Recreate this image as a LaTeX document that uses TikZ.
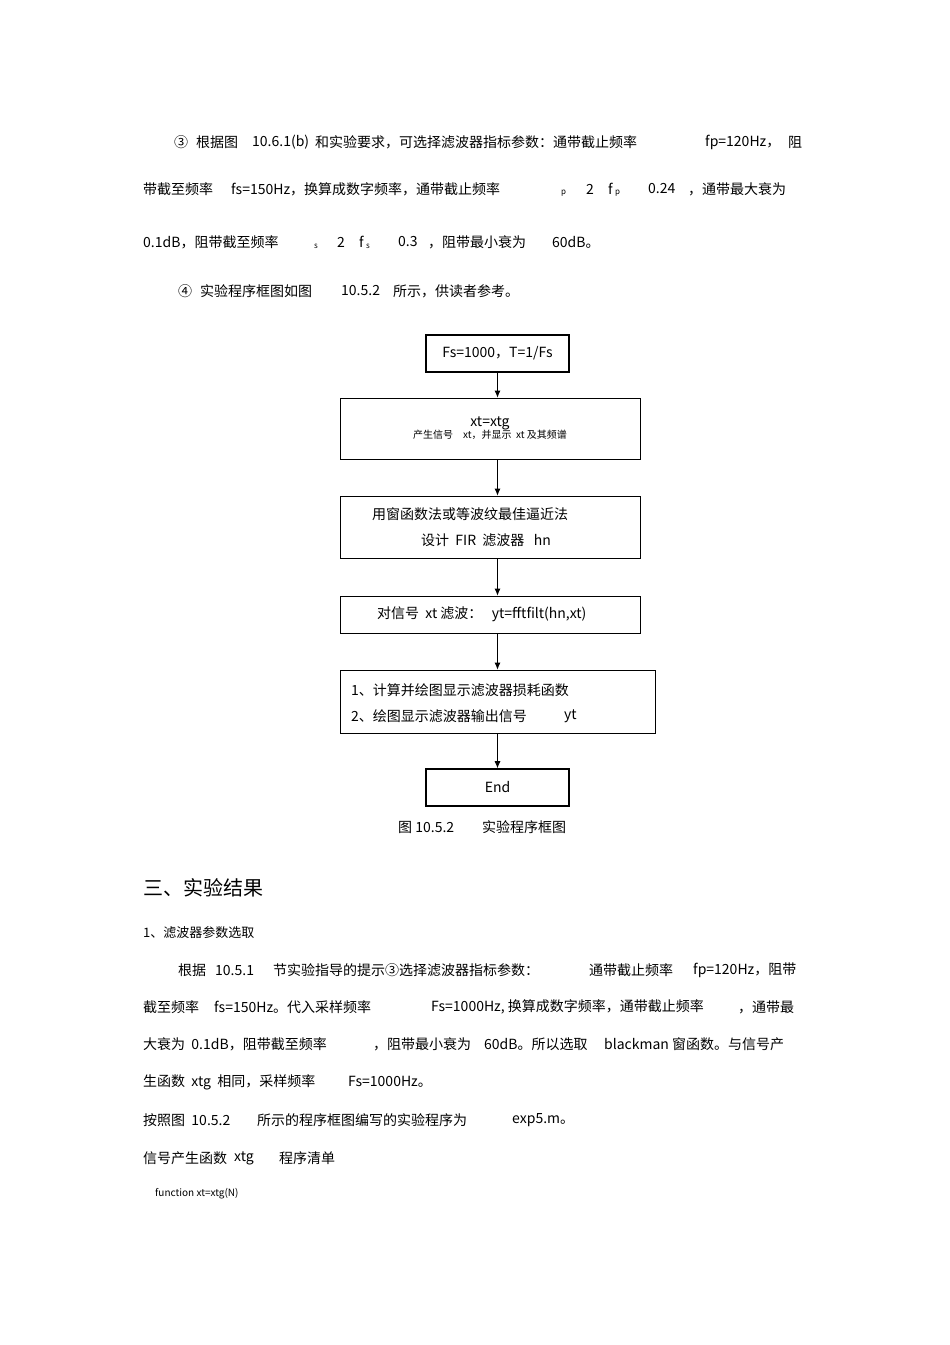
\documentclass[tikz,border=0pt]{standalone}
\usepackage{fontspec}
\setmainfont{Noto Sans CJK SC}
\usetikzlibrary{arrows.meta}
\begin{document}
\begin{tikzpicture}[x=1pt,y=-1pt,
 t/.style={anchor=west,inner sep=0pt,font=\fontsize{14}{16}\selectfont},
 ts/.style={anchor=west,inner sep=0pt,font=\fontsize{8}{9}\selectfont},
 box/.style={draw,line width=0.8pt,inner sep=0pt},
 tbox/.style={draw,line width=1.6pt,inner sep=0pt},
 arr/.style={-{Latex[length=7pt,width=6pt]},line width=0.8pt}]
\useasboundingbox (0,0) rectangle (950,1345);
% paragraph 3
\node[t] (a1) at (174,142) {③};
\node[t] (a2) at (196,142) {根据图};
\node[t] (a3) at (252,142) {10.6.1(b)};
\node[t] (a4) at (315,142) {和实验要求，可选择滤波器指标参数：通带截止频率};
\node[t] (a5) at (705,142) {fp=120Hz，};
\node[t] (a6) at (788,142) {阻};
\node[t] (b1) at (143,189) {带截至频率};
\node[t] (b2) at (231,189) {fs=150Hz，换算成数字频率，通带截止频率};
\node[ts] (b3) at (561,193) {p};
\node[t] (b4) at (586,189) {2};
\node[t] (b5) at (608,189) {f};
\node[ts] (b6) at (615,193) {p};
\node[t] (b7) at (648,189) {0.24};
\node[t] (b8) at (688,189) {，通带最大衰为};
\node[t] (c1) at (143,242) {0.1dB，阻带截至频率};
\node[ts] (c2) at (314,246) {s};
\node[t] (c3) at (337,242) {2};
\node[t] (c4) at (359,242) {f};
\node[ts] (c5) at (366,246) {s};
\node[t] (c6) at (398,242) {0.3};
\node[t] (c7) at (428,242) {，阻带最小衰为};
\node[t] (c8) at (552,242) {60dB。};
\node[t] (d1) at (178,291) {④};
\node[t] (d2) at (200,291) {实验程序框图如图};
\node[t] (d3) at (341,291) {10.5.2};
\node[t] (d4) at (393,291) {所示，供读者参考。};
% flowchart
\node[tbox,minimum width=143pt,minimum height=37pt] (n1) at (497.5,353.5) {\fontsize{14}{16}\selectfont Fs=1000，T=1/Fs};
\node[box,minimum width=300pt,minimum height=61pt,align=center] (n2) at (490,428.5) {\fontsize{14}{26}\selectfont xt=xtg\\ 产生信号\quad xt，并显示\ \ xt 及其频谱};
\node[box,minimum width=300pt,minimum height=62pt] (n3) at (490,527) {};
\node[t] (n3a) at (372,514) {用窗函数法或等波纹最佳逼近法};
\node[t] (n3b) at (421,540) {设计\ \ FIR\ \ 滤波器\ \ \ hn};
\node[box,minimum width=300pt,minimum height=37pt] (n4) at (490,614.5) {};
\node[t] (n4a) at (377,614) {对信号\ \ xt 滤波：\ \ \ yt=fftfilt(hn,xt)};
\node[box,minimum width=315pt,minimum height=63pt] (n5) at (497.5,701.5) {};
\node[t] (n5a) at (351,690) {1、计算并绘图显示滤波器损耗函数};
\node[t] (n5b) at (351,716) {2、绘图显示滤波器输出信号};
\node[t] (n5c) at (564,716) {yt};
\node[tbox,minimum width=143pt,minimum height=37pt] (n6) at (497.5,787.5) {\fontsize{14}{16}\selectfont End};
\draw[arr] (n1) -- (n2.north -| n1);
\draw[arr] (n2.south -| n1) -- (n3.north -| n1);
\draw[arr] (n3.south -| n1) -- (n4.north -| n1);
\draw[arr] (n4.south -| n1) -- (n5.north -| n1);
\draw[arr] (n5.south -| n1) -- (n6);
\node[t] (cap) at (398,827) {图\ 10.5.2\qquad 实验程序框图};
% results
\node[anchor=west,inner sep=0pt,font=\fontsize{20}{22}\selectfont] (h) at (143,888) {三、实验结果};
\node[t,font=\fontsize{13}{15}\selectfont] (h1) at (143,933) {1、滤波器参数选取};
\node[t] (e1) at (178,970) {根据};
\node[t] (e2) at (215,970) {10.5.1};
\node[t] (e3) at (273,970) {节实验指导的提示③选择滤波器指标参数：};
\node[t] (e4) at (589,970) {通带截止频率};
\node[t] (e5) at (693,970) {fp=120Hz，阻带};
\node[t] (f1) at (143,1007) {截至频率};
\node[t] (f2) at (214,1007) {fs=150Hz。代入采样频率};
\node[t] (f3) at (431,1007) {Fs=1000Hz,\ 换算成数字频率，通带截止频率};
\node[t] (f4) at (738,1007) {，通带最};
\node[t] (g1) at (143,1044) {大衰为\ \ 0.1dB，阻带截至频率};
\node[t] (g2) at (373,1044) {，阻带最小衰为};
\node[t] (g3) at (484,1044) {60dB。所以选取};
\node[t] (g4) at (604,1044) {blackman 窗函数。与信号产};
\node[t] (k1) at (143,1082) {生函数\ \ xtg\ \ 相同，采样频率};
\node[t] (k2) at (348,1082) {Fs=1000Hz。};
\node[t] (l1) at (143,1120) {按照图\ \ 10.5.2};
\node[t] (l2) at (257,1120) {所示的程序框图编写的实验程序为};
\node[t] (l3) at (512,1120) {exp5.m。};
\node[t] (m1) at (143,1158) {信号产生函数};
\node[t] (m2) at (234,1158) {xtg};
\node[t] (m3) at (279,1158) {程序清单};
\node[anchor=west,inner sep=0pt,font=\fontsize{10}{11}\selectfont] (p1) at (155,1194) {function xt=xtg(N)};
\end{tikzpicture}
\end{document}
